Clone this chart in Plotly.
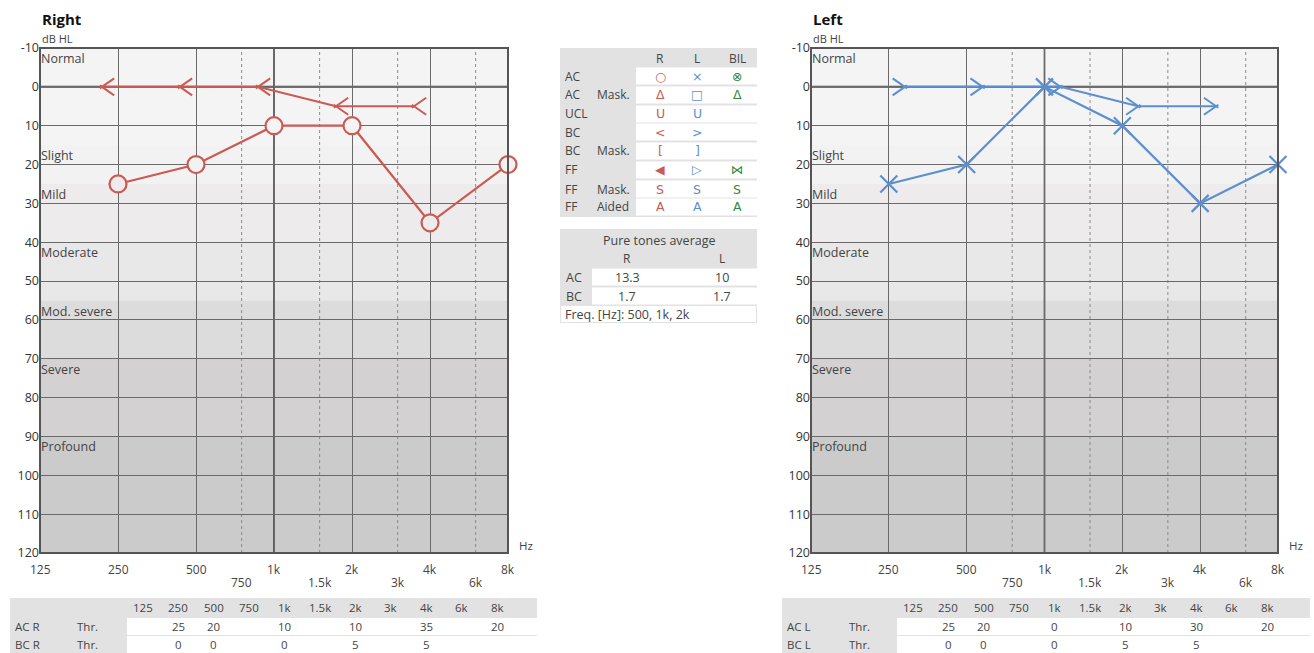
import math
import plotly.graph_objects as go

W, H = 1314, 653

# ---------------- data ----------------
oct_freqs = [125, 250, 500, 1000, 2000, 4000, 8000]
oct_labels = ["125", "250", "500", "1k", "2k", "4k", "8k"]
half_freqs = [750, 1500, 3000, 6000]
half_labels = ["750", "1.5k", "3k", "6k"]
db_ticks = list(range(-10, 121, 10))

ac_r_freq = [250, 500, 1000, 2000, 4000, 8000]
ac_r_db = [25, 20, 10, 10, 35, 20]
bc_r_freq = [250, 500, 1000, 2000, 4000]
bc_r_db = [0, 0, 0, 5, 5]

ac_l_freq = [250, 500, 1000, 2000, 4000, 8000]
ac_l_db = [25, 20, 0, 10, 30, 20]
bc_l_freq = [250, 500, 1000, 2000, 4000]
bc_l_db = [0, 0, 0, 5, 5]

table_freqs = [125, 250, 500, 750, 1000, 1500, 2000, 3000, 4000, 6000, 8000]
table_labels = ["125", "250", "500", "750", "1k", "1.5k", "2k", "3k", "4k", "6k", "8k"]

band_names = ["Normal", "Slight", "Mild", "Moderate", "Mod. severe", "Severe", "Profound"]
band_tops = [-10, 15, 25, 40, 55, 70, 90]
band_bottoms = [15, 25, 40, 55, 70, 90, 120]
band_colors = ["#f4f4f4", "#f2f2f2", "#eeebed", "#e8e8e8", "#dcdcdc", "#d4d1d3", "#cbcbcb"]

legend_rows = [("AC", ""), ("AC", "Mask."), ("UCL", ""), ("BC", ""), ("BC", "Mask."),
               ("FF", ""), ("FF", "Mask."), ("FF", "Aided")]
legend_r = ["○", "Δ", "U", "<", "[", "◀", "S", "A"]
legend_l = ["×", "□", "U", ">", "]", "▷", "S", "A"]
legend_bil = ["⊗", "Δ", "", "", "", "⋈", "S", "A"]

pta_rows = ["AC", "BC"]
pta_r = ["13.3", "1.7"]
pta_l = ["10", "1.7"]
pta_freq_text = "Freq. [Hz]: 500, 1k, 2k"

RED = "#c95a54"
BLUE = "#5b8fcf"
GREEN = "#2f8a3c"
TXT = "#444444"
FONT = "Open Sans"

# geometry helpers (pixel layout of the page)
OCT_PX = 78.0          # pixels per octave on the frequency axis
DB_PX = 505.0 / 130.0  # pixels per dB


def px(x):
    return x / W


def py(y):
    return 1 - y / H


def band_color(db):
    for t, b, c in zip(band_tops, band_bottoms, band_colors):
        if t <= db < b:
            return c
    return band_colors[-1]


fig = go.Figure()
shapes = []
anns = []

panels = [
    dict(name="Right", xa="x", ya="y", xl=40, xr=508, color=RED,
         ac_f=ac_r_freq, ac_d=ac_r_db, bc_f=bc_r_freq, bc_d=bc_r_db,
         ac_sym="circle", side=-1, ear="R",
         tbl_x0=10, tbl_x1=537, tbl_col0=143),
    dict(name="Left", xa="x2", ya="y2", xl=811, xr=1278, color=BLUE,
         ac_f=ac_l_freq, ac_d=ac_l_db, bc_f=bc_l_freq, bc_d=bc_l_db,
         ac_sym="x-thin-open", side=1, ear="L",
         tbl_x0=782, tbl_x1=1310, tbl_col0=913),
]

for i, p in enumerate(panels):
    xa, ya = p["xa"], p["ya"]
    xdom = xa + " domain"
    ydom = ya + " domain"
    # bands
    for nm, t, b, c in zip(band_names, band_tops, band_bottoms, band_colors):
        shapes.append(dict(type="rect", xref=xdom, yref=ya, x0=0, x1=1, y0=t, y1=b,
                           fillcolor=c, line=dict(width=0), layer="below"))
        anns.append(dict(text=nm, xref=xdom, yref=ya, x=0, y=t, xanchor="left",
                         yanchor="top", showarrow=False, xshift=-1,
                         font=dict(size=12.5, color=TXT, family=FONT)))
    # half-octave dashed lines
    for f in half_freqs:
        shapes.append(dict(type="line", xref=xa, yref=ydom, x0=f, x1=f, y0=0, y1=1,
                           line=dict(color="#8a8a8a", width=1, dash="dot"), layer="below"))
    # 1k line and 0 dB line thicker
    shapes.append(dict(type="line", xref=xa, yref=ydom, x0=1000, x1=1000, y0=0, y1=1,
                       line=dict(color="#444", width=1.6), layer="below"))
    shapes.append(dict(type="line", xref=xdom, yref=ya, x0=0, x1=1, y0=0, y1=0,
                       line=dict(color="#444", width=2), layer="below"))
    # border
    shapes.append(dict(type="rect", xref=xdom, yref=ydom, x0=0, x1=1, y0=0, y1=1,
                       line=dict(color="#555", width=2), layer="above"))
    # titles
    anns.append(dict(text="<b>" + p["name"] + "</b>", xref="paper", yref="paper",
                     x=px(p["xl"]), y=py(19), xanchor="left", yanchor="middle",
                     showarrow=False, font=dict(size=15, color="#111", family=FONT)))
    anns.append(dict(text="dB HL", xref="paper", yref="paper",
                     x=px(p["xl"]), y=py(39), xanchor="left", yanchor="middle",
                     showarrow=False, font=dict(size=11, color=TXT, family=FONT)))
    anns.append(dict(text="Hz", xref="paper", yref="paper",
                     x=px(p["xr"] + 9), y=py(545), xanchor="left", yanchor="middle",
                     showarrow=False, font=dict(size=11.5, color=TXT, family=FONT)))
    # x labels
    for f, lab in zip(oct_freqs, oct_labels):
        anns.append(dict(text=lab, xref=xa, yref="paper", x=math.log10(f), y=py(569),
                         xanchor="center", yanchor="middle", showarrow=False,
                         font=dict(size=12, color=TXT, family=FONT)))
    for f, lab in zip(half_freqs, half_labels):
        anns.append(dict(text=lab, xref=xa, yref="paper", x=math.log10(f), y=py(582),
                         xanchor="center", yanchor="middle", showarrow=False,
                         font=dict(size=12, color=TXT, family=FONT)))

    # bone conduction: chevron drawn beside the frequency line, arms as two
    # rotated line markers, vertex on the outer side
    s = p["side"]
    vx = [f * 2 ** (s * 16 / OCT_PX) for f in p["bc_f"]]
    arm_x = [f * 2 ** (s * 11 / OCT_PX) for f in p["bc_f"]]
    up_y = [d - 3.5 / DB_PX for d in p["bc_d"]]
    lo_y = [d + 3.5 / DB_PX for d in p["bc_d"]]
    fig.add_trace(go.Scatter(x=vx, y=p["bc_d"], xaxis=xa, yaxis=ya, mode="lines",
                             line=dict(color=p["color"], width=2), cliponaxis=False,
                             showlegend=False, hoverinfo="skip"))
    for yy, ang in ((up_y, -s * 55), (lo_y, s * 55)):
        fig.add_trace(go.Scatter(x=arm_x, y=yy, xaxis=xa, yaxis=ya, mode="markers",
                                 marker=dict(symbol="line-ns", size=12.5, angle=ang,
                                             color=p["color"],
                                             line=dict(color=p["color"], width=2)),
                                 cliponaxis=False, showlegend=False, hoverinfo="skip"))
    # air conduction
    fills = [band_color(d) for d in p["ac_d"]] if p["ac_sym"] == "circle" else p["color"]
    fig.add_trace(go.Scatter(x=p["ac_f"], y=p["ac_d"], xaxis=xa, yaxis=ya, mode="lines+markers",
                             marker=dict(symbol=p["ac_sym"], size=17, color=fills,
                                         line=dict(color=p["color"], width=2.2)),
                             line=dict(color=p["color"], width=2.2), cliponaxis=False,
                             showlegend=False, hoverinfo="skip"))

    # bottom threshold table
    x0, x1, c0 = p["tbl_x0"], p["tbl_x1"], p["tbl_col0"]
    shapes.append(dict(type="rect", xref="paper", yref="paper", x0=px(x0), x1=px(x1),
                       y0=py(653), y1=py(598), fillcolor="#e2e2e2", line=dict(width=0)))
    for ry in (618, 636):
        shapes.append(dict(type="rect", xref="paper", yref="paper", x0=px(c0 - 16),
                           x1=px(x1), y0=py(ry + 17), y1=py(ry), fillcolor="white",
                           line=dict(width=0)))
    ac_map = dict(zip(p["ac_f"], p["ac_d"]))
    bc_map = dict(zip(p["bc_f"], p["bc_d"]))
    for j, (f, lab) in enumerate(zip(table_freqs, table_labels)):
        cx = c0 + j * 35.4
        anns.append(dict(text=lab, xref="paper", yref="paper", x=px(cx), y=py(607),
                         xanchor="center", yanchor="middle", showarrow=False,
                         font=dict(size=11.5, color=TXT, family=FONT)))
        for ry, mp in ((626, ac_map), (644, bc_map)):
            if f in mp:
                anns.append(dict(text=str(mp[f]), xref="paper", yref="paper", x=px(cx),
                                 y=py(ry), xanchor="center", yanchor="middle",
                                 showarrow=False,
                                 font=dict(size=11.5, color=TXT, family=FONT)))
    for ry, lab in ((626, "AC " + p["ear"]), (644, "BC " + p["ear"])):
        anns.append(dict(text=lab, xref="paper", yref="paper", x=px(x0 + 3), y=py(ry),
                         xanchor="left", yanchor="middle", showarrow=False,
                         font=dict(size=11.5, color=TXT, family=FONT)))
        anns.append(dict(text="Thr.", xref="paper", yref="paper", x=px(x0 + 65), y=py(ry),
                         xanchor="left", yanchor="middle", showarrow=False,
                         font=dict(size=11.5, color=TXT, family=FONT)))

# ---------------- symbol legend table ----------------
shapes.append(dict(type="rect", xref="paper", yref="paper", x0=px(560), x1=px(757),
                   y0=py(217), y1=py(48), fillcolor="#e2e2e2", line=dict(width=0)))
col_x = [660, 697, 737]
for k, head in enumerate(["R", "L", "BIL"]):
    anns.append(dict(text=head, xref="paper", yref="paper", x=px(col_x[k]), y=py(58),
                     xanchor="center", yanchor="middle", showarrow=False,
                     font=dict(size=12, color=TXT, family=FONT)))
row_c = [76, 95, 114, 132, 151, 170, 189, 207]
for (a, b), cy, sr, sl, sb in zip(legend_rows, row_c, legend_r, legend_l, legend_bil):
    shapes.append(dict(type="rect", xref="paper", yref="paper", x0=px(636), x1=px(757),
                       y0=py(cy + 8.5), y1=py(cy - 8.5), fillcolor="white",
                       line=dict(width=0)))
    anns.append(dict(text=a, xref="paper", yref="paper", x=px(563), y=py(cy),
                     xanchor="left", yanchor="middle", showarrow=False,
                     font=dict(size=12, color=TXT, family=FONT)))
    if b:
        anns.append(dict(text=b, xref="paper", yref="paper", x=px(595), y=py(cy),
                         xanchor="left", yanchor="middle", showarrow=False,
                         font=dict(size=12, color=TXT, family=FONT)))
    for sy, cx, colr in ((sr, col_x[0], RED), (sl, col_x[1], BLUE), (sb, col_x[2], GREEN)):
        if sy:
            anns.append(dict(text=sy, xref="paper", yref="paper", x=px(cx), y=py(cy),
                             xanchor="center", yanchor="middle", showarrow=False,
                             font=dict(size=12.5, color=colr, family="DejaVu Sans")))

# ---------------- pure tones average table ----------------
shapes.append(dict(type="rect", xref="paper", yref="paper", x0=px(560), x1=px(757),
                   y0=py(323), y1=py(229), fillcolor="#e2e2e2", line=dict(width=0)))
anns.append(dict(text="Pure tones average", xref="paper", yref="paper", x=px(659), y=py(241),
                 xanchor="center", yanchor="middle", showarrow=False,
                 font=dict(size=12.5, color=TXT, family=FONT)))
anns.append(dict(text="R", xref="paper", yref="paper", x=px(627), y=py(258),
                 xanchor="center", yanchor="middle", showarrow=False,
                 font=dict(size=12, color=TXT, family=FONT)))
anns.append(dict(text="L", xref="paper", yref="paper", x=px(722), y=py(258),
                 xanchor="center", yanchor="middle", showarrow=False,
                 font=dict(size=12, color=TXT, family=FONT)))
for lab, vr, vl, cy in zip(pta_rows, pta_r, pta_l, [277, 296]):
    shapes.append(dict(type="rect", xref="paper", yref="paper", x0=px(592), x1=px(757),
                       y0=py(cy + 8.5), y1=py(cy - 8.5), fillcolor="white", line=dict(width=0)))
    anns.append(dict(text=lab, xref="paper", yref="paper", x=px(564), y=py(cy),
                     xanchor="left", yanchor="middle", showarrow=False,
                     font=dict(size=12.5, color=TXT, family=FONT)))
    anns.append(dict(text=vr, xref="paper", yref="paper", x=px(627), y=py(cy),
                     xanchor="center", yanchor="middle", showarrow=False,
                     font=dict(size=12.5, color=TXT, family=FONT)))
    anns.append(dict(text=vl, xref="paper", yref="paper", x=px(722), y=py(cy),
                     xanchor="center", yanchor="middle", showarrow=False,
                     font=dict(size=12.5, color=TXT, family=FONT)))
shapes.append(dict(type="rect", xref="paper", yref="paper", x0=px(561), x1=px(756),
                   y0=py(322), y1=py(306), fillcolor="white", line=dict(width=0)))
anns.append(dict(text=pta_freq_text, xref="paper", yref="paper", x=px(563), y=py(314),
                 xanchor="left", yanchor="middle", showarrow=False,
                 font=dict(size=12.5, color=TXT, family=FONT)))

# ---------------- axes ----------------
xax = dict(type="log", range=[math.log10(125), math.log10(8000)], tickvals=oct_freqs,
           showticklabels=False, showgrid=True, gridcolor="#6a6a6a", gridwidth=1,
           zeroline=False, showline=False, fixedrange=True, automargin=False)
yax = dict(range=[120, -10], tickvals=db_ticks, ticktext=[str(v) for v in db_ticks],
           showgrid=True, gridcolor="#6a6a6a",
           gridwidth=1, zeroline=False, showline=False, ticks="", automargin=False,
           tickfont=dict(size=12.5, color="#333", family=FONT), fixedrange=True)

fig.update_layout(
    width=W, height=H, margin=dict(l=0, r=0, t=0, b=0, pad=0, autoexpand=False),
    paper_bgcolor="white", plot_bgcolor="#f4f4f4",
    font=dict(family=FONT, color=TXT),
    xaxis=dict(xax, domain=[px(40), px(508)], anchor="y"),
    yaxis=dict(yax, domain=[py(553), py(48)], anchor="x"),
    xaxis2=dict(xax, domain=[px(811), px(1278)], anchor="y2"),
    yaxis2=dict(yax, domain=[py(553), py(48)], anchor="x2"),
    shapes=shapes, annotations=anns, showlegend=False,
)

fig.write_html("out.html", config={"displayModeBar": False},
               post_script="document.body.style.margin='0';document.body.style.padding='0';")
